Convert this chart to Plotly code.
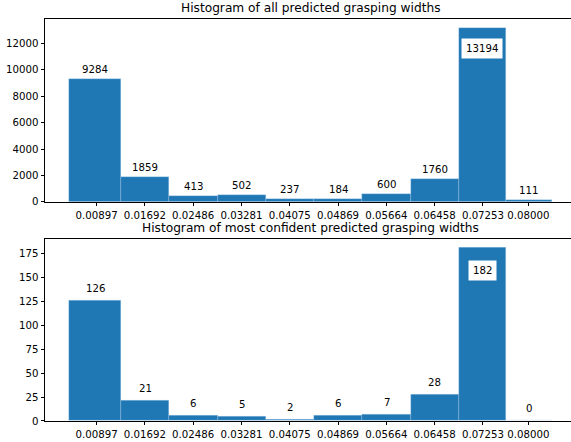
import plotly.graph_objects as go

# ---- data ----
tick_values = [0.00897, 0.01692, 0.02486, 0.03281, 0.04075, 0.04869, 0.05664, 0.06458, 0.07253, 0.08000]
tick_labels = ["0.00897", "0.01692", "0.02486", "0.03281", "0.04075", "0.04869", "0.05664", "0.06458", "0.07253", "0.08000"]
bin_edges = [0.00446, 0.01297, 0.02092, 0.02888, 0.03678, 0.04473, 0.05268, 0.06065, 0.06860, 0.07628, 0.08386]
counts_all = [9284, 1859, 413, 502, 237, 184, 600, 1760, 13194, 111]
counts_conf = [126, 21, 6, 5, 2, 6, 7, 28, 182, 0]
title_all = "Histogram of all predicted grasping widths"
title_conf = "Histogram of most confident predicted grasping widths"
y_ticks_all = [0, 2000, 4000, 6000, 8000, 10000, 12000]
y_ticks_conf = [0, 25, 50, 75, 100, 125, 150, 175]

centers = [(a + b) / 2 for a, b in zip(bin_edges[:-1], bin_edges[1:])]
widths = [b - a for a, b in zip(bin_edges[:-1], bin_edges[1:])]

W, H = 571, 442
FONT = "DejaVu Sans"
FS = 10.2
TFS = 12.2
BLUE = "#1f77b4"

# axes geometry (pixels)
ax_left, ax_right_full = 45, 576
top_ax = (19, 202)
bot_ax = (238.7, 421.3)
mt, mb = 19, H - 421.3
ph = H - mt - mb

span = bin_edges[-1] - bin_edges[0]
x_lo = bin_edges[0] - 0.05 * span
x_hi_full = bin_edges[-1] + 0.05 * span
x_hi = x_lo + (x_hi_full - x_lo) * (W - ax_left) / (ax_right_full - ax_left)
x_mid = (x_lo + x_hi_full) / 2

fig = go.Figure()

def add_hist(counts, xa, ya):
    fig.add_trace(go.Bar(
        x=centers, y=counts, width=widths,
        marker=dict(color=BLUE, line=dict(color="rgba(190,215,240,0.55)", width=0.5)),
        xaxis=xa, yaxis=ya, showlegend=False, hoverinfo="skip",
    ))

add_hist(counts_all, "x", "y")
add_hist(counts_conf, "x2", "y2")

def dom(a):
    return [(H - mb - a[1]) / ph, (H - mb - a[0]) / ph]

axis_common = dict(
    showline=True, linecolor="black", linewidth=0.9,
    ticks="outside", ticklen=3.5, tickwidth=0.9, tickcolor="black",
    tickfont=dict(family=FONT, size=FS, color="black"),
    showgrid=False, zeroline=False, automargin=False,
)

ymax_all = max(counts_all) * 1.05
ymax_conf = max(counts_conf) * 1.05

fig.update_layout(
    width=W, height=H,
    margin=dict(l=ax_left, r=0, t=mt, b=mb, autoexpand=False),
    paper_bgcolor="white", plot_bgcolor="white",
    bargap=0,
    xaxis=dict(domain=[0, 1], range=[x_lo, x_hi], tickvals=tick_values, ticktext=tick_labels,
               mirror=True, anchor="y", **axis_common),
    yaxis=dict(domain=dom(top_ax), range=[0, ymax_all], tickvals=y_ticks_all,
               ticktext=[str(v) for v in y_ticks_all], anchor="x", **axis_common),
    xaxis2=dict(domain=[0, 1], range=[x_lo, x_hi], tickvals=tick_values, ticktext=tick_labels,
                mirror=True, anchor="y2", **axis_common),
    yaxis2=dict(domain=dom(bot_ax), range=[0, ymax_conf], tickvals=y_ticks_conf,
                ticktext=[str(v) for v in y_ticks_conf], anchor="x2", **axis_common),
)

anns = []
def add_labels(counts, xr, yr, shift_up, shift_in):
    m = max(counts)
    for c, v in zip(centers, counts):
        if v == m:
            anns.append(dict(x=c, y=v, xref=xr, yref=yr, text=str(v), showarrow=False,
                             yanchor="top", yshift=-shift_in, bgcolor="white", borderpad=4,
                             font=dict(family=FONT, size=FS, color="black")))
        else:
            anns.append(dict(x=c, y=v, xref=xr, yref=yr, text=str(v), showarrow=False,
                             yanchor="bottom", yshift=shift_up,
                             font=dict(family=FONT, size=FS, color="black")))

add_labels(counts_all, "x", "y", 2, 10.5)
add_labels(counts_conf, "x2", "y2", 4.5, 13)

anns.append(dict(x=x_mid, y=1, xref="x", yref="y domain", text=title_all, showarrow=False,
                 yanchor="bottom", yshift=1.5, font=dict(family=FONT, size=TFS, color="black")))
anns.append(dict(x=x_mid, y=1, xref="x2", yref="y2 domain", text=title_conf, showarrow=False,
                 yanchor="bottom", yshift=1.5, font=dict(family=FONT, size=TFS, color="black")))

fig.update_layout(annotations=anns)
fig.write_html(
    "out.html",
    config={"displayModeBar": False},
    post_script="document.body.style.margin='0';document.body.style.overflow='hidden';",
)
